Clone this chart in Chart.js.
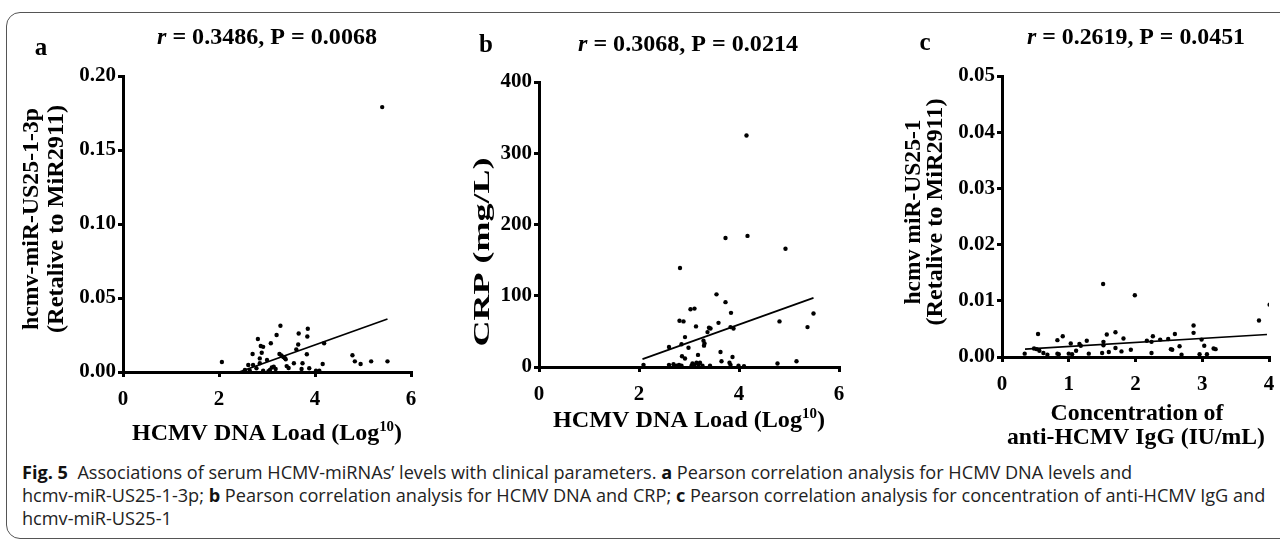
<!DOCTYPE html>
<html>
<head>
<meta charset="utf-8">
<script src="https://cdn.jsdelivr.net/npm/chart.js@4.4.1/dist/chart.umd.min.js"></script>
<style>
  html, body { margin:0; padding:0; background:#fff; }
  body { width:1280px; height:544px; position:relative; overflow:hidden; }
  canvas { position:absolute; top:0; }
  .frame { position:absolute; left:6px; top:12px; width:1300px; height:527px; border:1.3px solid #555; border-radius:14px; box-sizing:border-box; }
  .cap { position:absolute; left:22px; top:0; white-space:nowrap; line-height:1; font-family:"Open Sans","Noto Sans",sans-serif; font-size:16px; color:#222; }
  .cap b { font-weight:bold; color:#111; }
</style>
</head>
<body>
<div class="frame"></div>
<canvas id="ca" width="430" height="452"></canvas>
<canvas id="cb" width="420" height="452"></canvas>
<canvas id="cc" width="430" height="452"></canvas>
<script>
// ---------- data ----------
// Panel a: HCMV DNA load (log10) vs hcmv-miR-US25-1-3p
const aX = [2.06,3.28,3.85,3.20,3.66,3.84,2.81,3.08,3.65,2.87,2.92,4.19,3.61,2.70,2.89,3.26,3.30,3.34,3.37,3.83,2.85,3.00,3.39,2.85,2.61,2.71,3.56,3.74,4.16,3.41,3.45,2.78,2.54,3.06,3.10,3.14,3.18,2.92,3.72,3.88,4.02,4.09,4.78,4.83,4.95,5.17,5.51,5.40,3.03,2.64];
const aY = [0.0068,0.0313,0.0292,0.0250,0.0260,0.0240,0.0223,0.0194,0.0186,0.0176,0.0170,0.0194,0.0153,0.0122,0.0130,0.0122,0.0112,0.0101,0.0095,0.0120,0.0092,0.0081,0.0086,0.0059,0.0047,0.0047,0.0059,0.0059,0.0054,0.0040,0.0027,0.0025,0.0014,0.0014,0.0030,0.0036,0.0020,0.0009,0.0020,0.0025,0.0009,0.0009,0.0113,0.0072,0.0054,0.0072,0.0072,0.1790,0.0005,0.0010];
const aLineX = [2.42, 5.51];
const aLineY = [0.0000, 0.0358];
const aXTicks = [0, 2, 4, 6];
const aXLabels = ['0', '2', '4', '6'];
const aYTicks = [0, 0.05, 0.10, 0.15, 0.20];
const aYLabels = ['0.00', '0.05', '0.10', '0.15', '0.20'];

// Panel b: HCMV DNA load (log10) vs CRP (mg/L)
const bX = [4.15,3.73,4.17,4.93,2.82,3.55,3.73,3.03,3.11,3.84,5.49,2.81,2.89,4.81,3.59,3.14,3.40,3.43,3.83,3.89,5.37,3.37,2.92,3.29,3.31,3.30,2.60,2.85,2.99,3.63,2.86,2.92,3.18,3.87,3.65,5.15,3.81,4.77,2.09,2.60,2.69,2.80,2.85,3.07,3.11,3.15,3.19,3.27,3.42,3.83,3.99,4.10,3.05,3.22,2.75];
const bY = [325,181,184,166,139,102,91,81,82,76,75,65,64,64,62,57,55,54,56,54,56,49,42,37,33,30,28,32,27,21,15,12,17,14,8,8,6,5,3,3,4,3,2,5,3,6,4,2,2,3,2,1,2,6,2];
const bLineX = [2.07, 5.49];
const bLineY = [11, 97];
const bXTicks = [0, 2, 4, 6];
const bXLabels = ['0', '2', '4', '6'];
const bYTicks = [0, 100, 200, 300, 400];
const bYLabels = ['0', '100', '200', '300', '400'];

// Panel c: anti-HCMV IgG (IU/mL) vs hcmv miR-US25-1
const cX = [1.515,1.99,4.01,3.85,2.87,2.87,0.54,0.91,0.83,1.57,1.70,1.82,1.27,1.03,1.16,1.18,1.11,1.52,1.52,2.17,2.26,2.24,2.37,2.49,2.59,2.99,3.03,3.17,3.20,2.53,2.55,2.66,1.70,1.79,1.93,0.48,0.52,0.56,0.62,0.34,0.83,0.85,1.00,1.05,1.30,1.50,1.60,2.24,2.69,2.96,3.07,0.68];
const cY = [0.0130,0.0110,0.0093,0.0065,0.0056,0.0043,0.0041,0.0037,0.0030,0.0040,0.0044,0.0033,0.0029,0.0024,0.0023,0.0020,0.0011,0.0027,0.0021,0.0029,0.0037,0.0027,0.0031,0.0032,0.0041,0.0031,0.0020,0.0015,0.0014,0.0014,0.0013,0.0019,0.0016,0.0010,0.0013,0.0015,0.0014,0.0011,0.0007,0.0006,0.0006,0.0005,0.0006,0.0005,0.0006,0.0007,0.0009,0.0007,0.0004,0.0005,0.0005,0.0004];
const cLineX = [0.345, 3.97];
const cLineY = [0.0014, 0.0040];
const cXTicks = [0, 1, 2, 3, 4];
const cXLabels = ['0', '1', '2', '3', '4'];
const cYTicks = [0, 0.01, 0.02, 0.03, 0.04, 0.05];
const cYLabels = ['0.00', '0.01', '0.02', '0.03', '0.04', '0.05'];

// ---------- layout (pixels, page coordinates) ----------
const geoA = { left:0,   w:430, h:452, l:123,  t:76, r:411,  b:372 };
const geoB = { left:430, w:420, h:452, l:539,  t:82, r:839,  b:367 };
const geoC = { left:850, w:430, h:452, l:1002, t:76, r:1269, b:357 };

const SERIF = '"Liberation Serif", "Times New Roman", serif';
Chart.defaults.font.family = SERIF;
Chart.defaults.font.weight = 'bold';
Chart.defaults.font.size = 21;
Chart.defaults.color = '#000';
Chart.defaults.borderColor = '#000';

// bold serif text drawn on a chart canvas (x = centre along the text, y = baseline)
function drawRich(ctx, it, offX) {
  ctx.save();
  const fonts = it.parts.map(p => (p.i ? 'italic ' : '') + 'bold ' + (p.sup ? it.size * 0.62 : it.size) + 'px ' + SERIF);
  const ws = it.parts.map((p, k) => { ctx.font = fonts[k]; return ctx.measureText(p.s).width; });
  const W = ws.reduce((a, b) => a + b, 0);
  const sx = it.len ? it.len / W : 1;
  ctx.translate(it.x - offX, it.y);
  if (it.rot) ctx.rotate(-Math.PI / 2);
  ctx.scale(sx, 1);
  ctx.fillStyle = '#000';
  ctx.textBaseline = 'alphabetic';
  ctx.textAlign = 'left';
  let x = -W / 2;
  it.parts.forEach((p, k) => {
    ctx.font = fonts[k];
    ctx.fillText(p.s, x, p.sup ? -it.size * 0.36 : 0);
    x += ws[k];
  });
  ctx.restore();
}
const P = (s, o) => Object.assign({ s: s }, o || {});

const textA = [
  { parts: [P('a')], x: 41, y: 55, size: 25 },
  { parts: [P('r', { i: 1 }), P(' = 0.3486, P = 0.0068')], x: 267, y: 44, size: 23, len: 220 },
  { parts: [P('HCMV DNA Load (Log'), P('10', { sup: 1 }), P(')')], x: 267, y: 440, size: 24, len: 270 },
  { parts: [P('hcmv-miR-US25-1-3p')], x: 38, y: 219, size: 24, len: 222, rot: 1 },
  { parts: [P('(Retalive to MiR2911)')], x: 63, y: 219, size: 24, len: 228, rot: 1 }
];
const textB = [
  { parts: [P('b')], x: 486, y: 52, size: 25 },
  { parts: [P('r', { i: 1 }), P(' = 0.3068, P = 0.0214')], x: 688, y: 51, size: 23, len: 220 },
  { parts: [P('HCMV DNA Load (Log'), P('10', { sup: 1 }), P(')')], x: 689, y: 427, size: 24, len: 272 },
  { parts: [P('CRP (mg/L)')], x: 489, y: 252, size: 23, len: 189, rot: 1 }
];
const textC = [
  { parts: [P('c')], x: 925, y: 50, size: 25 },
  { parts: [P('r', { i: 1 }), P(' = 0.2619, P = 0.0451')], x: 1136, y: 44, size: 23, len: 218 },
  { parts: [P('Concentration of')], x: 1137, y: 420, size: 24, len: 173 },
  { parts: [P('anti-HCMV IgG (IU/mL)')], x: 1136, y: 444, size: 24, len: 258 },
  { parts: [P('hcmv miR-US25-1')], x: 920, y: 212, size: 24, len: 185, rot: 1 },
  { parts: [P('(Retalive to MiR2911)')], x: 942, y: 212, size: 24, len: 227, rot: 1 }
];

function makeChart(id, g, xs, ys, lx, ly, xT, xL, yT, yL, texts) {
  const cv = document.getElementById(id);
  cv.style.left = g.left + 'px';
  const l = g.l - g.left, r = g.r - g.left;
  const pts = xs.map((x, i) => ({ x: x, y: ys[i] }));
  const ln = lx.map((x, i) => ({ x: x, y: ly[i] }));
  function axis(isX, T, L) {
    return {
      type: 'linear',
      min: T[0], max: T[T.length - 1],
      border: { display: true, color: '#000', width: 3 },
      grid: { display: true, drawOnChartArea: false, drawTicks: true, tickLength: 5, lineWidth: 3, color: '#000' },
      afterBuildTicks: s => { s.ticks = T.map(v => ({ value: v })); },
      afterFit: isX
        ? (s => { s.height = g.h - g.b; s.paddingLeft = 0; s.paddingRight = 0; })
        : (s => { s.width = l; s.paddingTop = 0; s.paddingBottom = 0; }),
      ticks: {
        font: { family: SERIF, weight: 'bold', size: 21, lineHeight: 1 },
        color: '#000', padding: isX ? 12 : 2, maxRotation: 0, autoSkip: false,
        callback: (v, i) => L[i]
      }
    };
  }
  return new Chart(cv, {
    type: 'scatter',
    data: { datasets: [
      { data: pts, pointRadius: 2.2, pointHoverRadius: 2.2, pointBackgroundColor: '#000', pointBorderWidth: 0, borderColor: '#000' },
      { type: 'line', data: ln, borderColor: '#000', borderWidth: 1.7, pointRadius: 0, fill: false, tension: 0 }
    ]},
    options: {
      responsive: false, animation: false, events: [],
      layout: { padding: { left: 0, top: g.t, right: g.w - r, bottom: 0 } },
      plugins: { legend: { display: false }, tooltip: { enabled: false }, title: { display: false } },
      scales: { x: axis(true, xT, xL), y: axis(false, yT, yL) }
    },
    plugins: [{ id: 'panelText_' + id, afterDraw(chart) { texts.forEach(it => drawRich(chart.ctx, it, g.left)); } }]
  });
}

makeChart('ca', geoA, aX, aY, aLineX, aLineY, aXTicks, aXLabels, aYTicks, aYLabels, textA);
makeChart('cb', geoB, bX, bY, bLineX, bLineY, bXTicks, bXLabels, bYTicks, bYLabels, textB);
makeChart('cc', geoC, cX, cY, cLineX, cLineY, cXTicks, cXLabels, cYTicks, cYLabels, textC);

// ---------- caption ----------
const capLines = [
  '<b>Fig. 5</b>&nbsp; Associations of serum HCMV-miRNAs’ levels with clinical parameters. <b>a</b> Pearson correlation analysis for HCMV DNA levels and',
  'hcmv-miR-US25-1-3p; <b>b</b> Pearson correlation analysis for HCMV DNA and CRP; <b>c</b> Pearson correlation analysis for concentration of anti-HCMV IgG and',
  'hcmv-miR-US25-1'
];
const capY = [472, 495, 518];
const capEls = capLines.map(html => {
  const el = document.createElement('div');
  el.className = 'cap';
  el.innerHTML = html;
  document.body.appendChild(el);
  return el;
});
const capSize = 16 * 1244 / capEls[1].offsetWidth;
capEls.forEach((el, i) => {
  el.style.fontSize = capSize.toFixed(2) + 'px';
  el.style.top = (capY[i] - capSize / 2).toFixed(1) + 'px';
});
</script>
</body>
</html>
